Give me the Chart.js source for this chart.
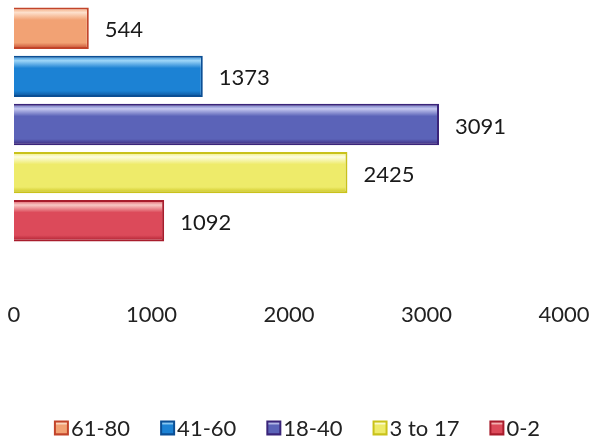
<!DOCTYPE html>
<html>
<head>
<meta charset="utf-8">
<script src="https://cdn.jsdelivr.net/npm/chart.js@4/dist/chart.umd.min.js"></script>
<style>
  html, body { margin: 0; padding: 0; background: #fff; }
  #wrap { width: 595px; height: 445px; }
</style>
</head>
<body>
<div id="wrap"><canvas id="age-bar-chart"></canvas></div>
<script>
(function () {
    "use strict";

    // Datos del gráfico
    const groups = ["61-80", "41-60", "18-40", "3 to 17", "0-2"];
    const counts = [544, 1373, 3091, 2425, 1092];
    const xTicks = [0, 1000, 2000, 3000, 4000];

    // colores: [brillo, medio, borde]
    const palette = [
        ["#fde0cc", "#f2a274", "#c2442a"],
        ["#9fd6f8", "#1c82d4", "#0b4f95"],
        ["#c5c8f0", "#5b63b8", "#3a2479"],
        ["#fdfde0", "#eeeb6a", "#c9c21a"],
        ["#f8c8c4", "#dc4a5a", "#a81c2c"],
    ];

    const CAT_PCT = 0.99;
    const BAR_PCT = 0.86;

    const glossFill = (c, i, top, bh) => {
        const g = c.createLinearGradient(0, top, 0, top + bh);
        g.addColorStop(0, palette[i][1]);
        g.addColorStop(0.12, palette[i][0]);
        g.addColorStop(0.3, palette[i][1]);
        g.addColorStop(0.85, palette[i][1]);
        g.addColorStop(1, palette[i][2]);
        return g;
    };

    // degradado brillante según la posición de cada barra
    const gloss = (ctx, i) => {
        const area = ctx.chart.chartArea;
        if (!area) return palette[i][1];
        const h = area.bottom - area.top;
        const slot = (h * CAT_PCT) / groups.length;
        const top = area.top + h * (1 - CAT_PCT) / 2 + i * slot + slot * (1 - BAR_PCT) / 2;
        return glossFill(ctx.chart.ctx, i, top, slot * BAR_PCT);
    };

    const valueLabels = {
        id: "valueLabels",
        afterDatasetsDraw(chart) {
            const c = chart.ctx;
            c.save();
            c.font = "22px Lato";
            c.fillStyle = "#1a1a1a";
            c.textBaseline = "middle";
            chart.data.datasets.forEach((ds, i) => {
                const bar = chart.getDatasetMeta(i).data[0];
                c.fillText(String(ds.data[0]), bar.x + 16, bar.y + 2);
            });
            c.restore();
        },
    };

    // leyenda dibujada a mano para acercar cajas y textos
    const bottomLegend = {
        id: "bottomLegend",
        afterDraw(chart) {
            const c = chart.ctx;
            const box = 13, gap = 3, space = 31, cy = 428;
            c.save();
            c.font = "22px Lato";
            c.textBaseline = "middle";
            const widths = groups.map((g) => c.measureText(g).width);
            const total = widths.reduce((a, w) => a + box + gap + w, 0) + space * (groups.length - 1);
            let x = (chart.width - total) / 2;
            groups.forEach((g, i) => {
                c.fillStyle = glossFill(c, i, cy - box / 2, box);
                c.fillRect(x, cy - box / 2, box, box);
                c.strokeStyle = palette[i][2];
                c.lineWidth = 2;
                c.strokeRect(x, cy - box / 2, box, box);
                c.fillStyle = "#222";
                c.fillText(g, x + box + gap, cy + 1);
                x += box + gap + widths[i] + space;
            });
            c.restore();
        },
    };

    new Chart(document.getElementById("age-bar-chart").getContext("2d"), {
        type: "bar",
        data: {
            labels: [""],
            datasets: groups.map((g, i) => ({
                label: g,
                data: [counts[i]],
                backgroundColor: (ctx) => gloss(ctx, i),
                borderColor: palette[i][2],
                borderWidth: 2,
                categoryPercentage: CAT_PCT,
                barPercentage: BAR_PCT,
            })),
        },
        options: {
            indexAxis: "y",
            responsive: true,
            maintainAspectRatio: false,
            animation: false,
            layout: { padding: { top: 3, left: 14, right: 31, bottom: 50 } },
            scales: {
                x: {
                    min: 0,
                    max: 4000,
                    afterBuildTicks: (scale) => {
                        scale.ticks = xTicks.map((v) => ({ value: v }));
                    },
                    afterFit: (scale) => {
                        scale.height = 149;
                        scale.paddingLeft = 0;
                        scale.paddingRight = 0;
                    },
                    grid: { display: false, drawTicks: false },
                    border: { display: false },
                    ticks: {
                        padding: 56,
                        color: "#222",
                        font: { family: "Lato", size: 22 },
                        callback: (v) => String(v),
                    },
                },
                y: { display: false },
            },
            plugins: {
                legend: { display: false },
                tooltip: { enabled: false },
            },
        },
        plugins: [valueLabels, bottomLegend],
    });
})();
</script>
</body>
</html>
